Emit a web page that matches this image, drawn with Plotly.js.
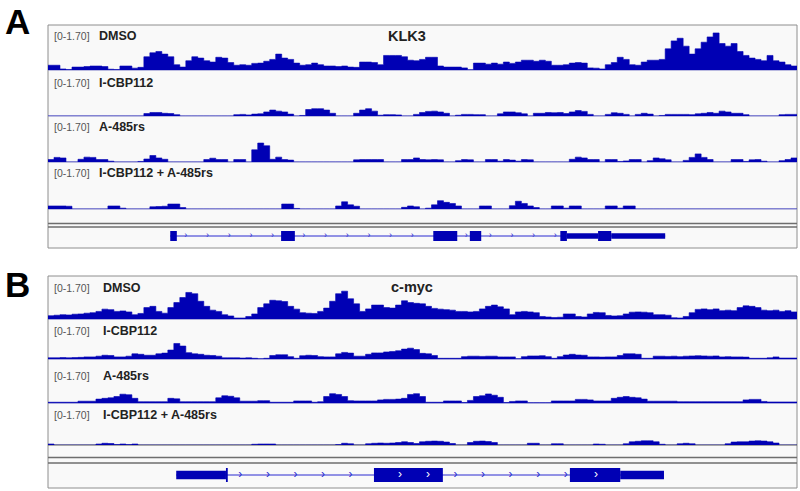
<!DOCTYPE html>
<html><head><meta charset="utf-8">
<script src="https://cdn.plot.ly/plotly-3.0.1.min.js"></script>
<style>html,body{margin:0;padding:0;background:#fff}#chart{width:800px;height:491px}</style>
</head><body><div id="chart"></div>
<script>
// ---------- data ----------
const trackNames = ['DMSO', 'I-CBP112', 'A-485rs', 'I-CBP112 + A-485rs'];
const rangeLabel = '[0-1.70]';
const yMax = 1.70;
const geneNames = ['KLK3', 'c-myc'];
const panelLetters = ['A', 'B'];

// KLK3 locus coverage (125 equal bins)
const klk3_DMSO = [
0.18,0.18,0.04,0.02,0.11,0.11,0.13,0.15,0.15,0.13,
0.03,0.02,0.15,0.15,0.07,0.1,0.5,0.65,0.7,0.6,
0.5,0.2,0.11,0.35,0.5,0.45,0.35,0.3,0.48,0.45,
0.28,0.18,0.2,0.18,0.25,0.26,0.33,0.4,0.6,0.45,
0.4,0.26,0.18,0.2,0.26,0.2,0.15,0.15,0.13,0.15,
0.11,0.1,0.3,0.3,0.28,0.2,0.55,0.55,0.55,0.5,
0.37,0.35,0.4,0.48,0.48,0.15,0.11,0.11,0.11,0.08,
0.01,0.26,0.26,0.22,0.26,0.22,0.3,0.25,0.3,0.37,
0.37,0.33,0.37,0.33,0.18,0.18,0.2,0.26,0.28,0.26,
0.08,0.07,0.04,0.2,0.28,0.48,0.4,0.2,0.18,0.3,
0.37,0.37,0.4,0.8,1.1,1.2,0.9,0.6,0.8,1.05,
1.25,1.4,1.0,0.9,1.0,0.7,0.55,0.45,0.4,0.35,
0.55,0.35,0.3,0.2,0.15];
const klk3_ICBP = [
0,0,0,0,0,0,0,0,0,0,
0,0,0,0,0,0,0.09,0.13,0.13,0.1,
0.09,0.05,0,0,0,0,0,0,0,0,
0,0.05,0.06,0.04,0.07,0.08,0.15,0.22,0.18,0.15,
0.07,0,0.02,0.24,0.27,0.27,0.22,0.1,0,0,
0,0.1,0.22,0.27,0.18,0.03,0.05,0.05,0.04,0,
0,0.06,0.13,0.17,0.18,0.15,0.1,0,0.03,0.06,
0.06,0.05,0.05,0,0,0.08,0.15,0.15,0.12,0.08,
0,0.1,0.1,0.13,0.12,0.13,0.09,0.15,0.2,0.17,
0.06,0,0,0.06,0.12,0.1,0.06,0,0.06,0.1,
0.07,0,0.02,0.06,0.06,0.06,0.06,0.05,0.08,0.1,
0.13,0.1,0.18,0.15,0.1,0.1,0.05,0,0,0,
0,0,0.05,0.06,0.06];
const klk3_A485 = [
0.09,0.17,0.15,0,0,0.1,0.18,0.17,0.09,0.09,
0.03,0,0,0,0,0.02,0.11,0.24,0.15,0.1,
0,0,0,0,0,0,0.09,0.14,0.09,0.09,
0,0.09,0.09,0,0.45,0.7,0.6,0.1,0.18,0.09,
0.07,0,0,0,0,0,0,0,0,0,
0,0.08,0.09,0.09,0.09,0.09,0,0,0,0.09,
0.09,0.15,0.09,0.08,0.09,0.08,0,0,0.05,0.09,
0.08,0,0,0.09,0.09,0.03,0.09,0.07,0.03,0.09,
0.08,0,0,0,0,0,0,0.1,0.18,0.15,
0.09,0.09,0,0.09,0.09,0.02,0.04,0.09,0.09,0,
0.05,0.15,0.12,0.08,0,0,0.06,0.17,0.3,0.17,
0.09,0,0,0,0.09,0.09,0.02,0.08,0.09,0.03,
0,0,0.05,0.09,0.15];
const klk3_Combo = [
0.11,0.11,0.11,0.1,0,0,0,0,0,0,
0.11,0.11,0.03,0,0,0,0,0.08,0.09,0.1,
0.18,0.18,0.05,0,0,0,0,0,0,0,
0,0,0,0,0,0,0,0,0,0.18,
0.18,0.02,0,0,0,0,0,0,0.11,0.26,
0.15,0.1,0,0,0,0,0,0,0,0.06,
0.11,0.08,0,0.03,0.15,0.3,0.24,0.2,0.11,0,
0,0,0.11,0.11,0,0,0,0.12,0.28,0.2,
0.11,0.05,0,0,0.11,0.11,0.03,0.11,0.11,0,
0,0,0,0.11,0.11,0.03,0.11,0.11,0,0,
0,0,0,0,0,0,0,0,0,0,
0,0,0,0,0,0,0,0,0,0,
0,0,0,0,0];

// c-myc locus coverage (125 equal bins)
const myc_DMSO = [
0.13,0.15,0.17,0.16,0.19,0.2,0.23,0.25,0.3,0.39,
0.37,0.3,0.32,0.28,0.17,0.22,0.45,0.5,0.3,0.23,
0.45,0.65,0.85,1.05,1.0,0.7,0.5,0.35,0.3,0.17,
0.12,0.04,0.04,0.1,0.2,0.45,0.6,0.74,0.72,0.69,
0.5,0.39,0.25,0.23,0.22,0.3,0.43,0.7,1.0,1.1,
0.8,0.6,0.3,0.4,0.55,0.55,0.45,0.43,0.55,0.72,
0.65,0.62,0.6,0.5,0.42,0.39,0.37,0.35,0.3,0.3,
0.28,0.3,0.4,0.5,0.55,0.48,0.4,0.17,0.28,0.3,
0.28,0.25,0.1,0.08,0.06,0.07,0.2,0.2,0.1,0.08,
0.2,0.26,0.25,0.14,0.12,0.13,0.2,0.27,0.28,0.27,
0.25,0.17,0.17,0.15,0.05,0.04,0.1,0.25,0.38,0.4,
0.37,0.4,0.33,0.35,0.33,0.45,0.52,0.5,0.45,0.35,
0.33,0.35,0.3,0.33,0.28];
const myc_ICBP = [
0.05,0.05,0.06,0.05,0.06,0.07,0.09,0.09,0.12,0.16,
0.15,0.09,0.09,0.12,0.22,0.2,0.16,0.16,0.22,0.25,
0.38,0.66,0.55,0.27,0.22,0.2,0.16,0.15,0.12,0.05,
0.05,0.05,0.04,0.05,0.03,0.01,0.03,0.15,0.18,0.18,
0.1,0.03,0.14,0.16,0.15,0.1,0.09,0.09,0.22,0.28,
0.25,0.12,0.12,0.2,0.26,0.26,0.3,0.32,0.35,0.42,
0.46,0.4,0.24,0.22,0.15,0.03,0.03,0.03,0.03,0.1,
0.12,0.12,0.11,0.12,0.12,0.09,0.09,0.09,0.01,0.1,
0.13,0.13,0.14,0.1,0.03,0.1,0.17,0.2,0.17,0.16,
0.09,0.09,0.08,0.09,0.09,0.15,0.22,0.22,0.2,0.03,
0.03,0.12,0.12,0.11,0.12,0.1,0.12,0.13,0.14,0.13,
0.12,0.13,0.09,0.1,0.09,0.09,0.08,0.03,0.03,0.03,
0.05,0.09,0.04,0.04,0.04];
const myc_A485 = [
0.03,0.03,0.03,0.03,0.03,0.07,0.07,0.07,0.15,0.18,
0.2,0.25,0.34,0.32,0.18,0.05,0.05,0.05,0.05,0.05,
0.18,0.16,0.05,0.05,0.05,0.05,0.05,0.05,0.2,0.28,
0.26,0.2,0.07,0.07,0.07,0.09,0.09,0.03,0.03,0.03,
0.03,0.08,0.08,0.08,0.03,0.05,0.25,0.36,0.33,0.25,
0.09,0.08,0.08,0.08,0.08,0.12,0.14,0.14,0.15,0.18,
0.33,0.36,0.25,0.03,0.03,0.03,0.08,0.08,0.08,0.02,
0.1,0.25,0.28,0.35,0.3,0.22,0.02,0.06,0.08,0.08,
0.01,0.01,0.01,0.01,0.08,0.08,0.08,0.08,0.14,0.14,
0.12,0.08,0.08,0.08,0.18,0.22,0.25,0.22,0.2,0.15,
0.07,0.07,0.07,0.07,0.07,0.05,0.05,0.05,0.05,0.05,
0.05,0.05,0.05,0.05,0.05,0.05,0.12,0.14,0.14,0.06,
0.04,0.04,0.04,0.04,0.04];
const myc_Combo = [
0.04,0,0,0,0,0,0,0,0.04,0.07,
0.06,0.02,0.04,0.02,0.04,0,0,0,0,0,
0,0,0,0,0,0,0,0,0,0,
0,0,0,0,0.03,0.04,0.04,0.04,0,0,
0,0,0,0,0,0,0,0,0.02,0.07,
0.05,0,0,0.05,0.07,0.08,0.07,0.08,0.1,0.13,
0.1,0.06,0.13,0.15,0.16,0.15,0.12,0.06,0,0,
0.1,0.15,0.16,0.14,0.1,0,0,0,0,0,
0.07,0.07,0,0,0.05,0.05,0,0,0,0,
0,0.04,0.03,0,0,0,0.05,0.13,0.15,0.17,
0.17,0.13,0.03,0,0,0.05,0.07,0.05,0,0,
0,0,0,0.05,0.12,0.13,0.13,0.16,0.17,0.16,
0.13,0.08,0,0,0];

// gene models (bin coordinates)
const klk3_exonStart = [20.4, 38.9, 64.3, 70.4, 85.5, 86.6, 91.8, 94.0];
const klk3_exonEnd   = [21.5, 41.2, 68.3, 72.3, 86.6, 91.8, 94.0, 103.0];
const klk3_exonCoding = [1, 1, 1, 1, 1, 0, 1, 0];
const myc_exonStart = [21.4, 29.7, 54.4, 87.1, 95.5];
const myc_exonEnd   = [29.7, 30.0, 65.9, 95.5, 102.8];
const myc_exonCoding = [0, 1, 1, 1, 0];

// ---------- layout helpers ----------
const W = 800, H = 491, ML = 48, MR = 3;
const NB = klk3_DMSO.length;
const px2x = px => (px - ML) / (W - ML - MR);
const py2y = py => 1 - py / H;
const BLUE = '#0000b4';
const FONT = 'Liberation Sans, Arial, Helvetica, sans-serif';

const panels = [
  { top: 25, bottom: 248, tracks: [[25,70],[70,116],[116,162],[162,209]],
    data: [klk3_DMSO, klk3_ICBP, klk3_A485, klk3_Combo],
    labelY: [36, 83, 127, 173], nameX: 97, geneLabel: [407, 36],
    dbl: [223.5, 227], gene: [226, 246], baseCol: ['#7c7cc8','#7c7cc8','#7c7cc8','#7c7cc8'],
    exS: klk3_exonStart, exE: klk3_exonEnd, exC: klk3_exonCoding,
    thick: 0.5, thin: 0.28, arrowOff: 1.5, arrowStep: 3.62, arrowSize: 9, chevrons: false,
    letterY: 21 },
  { top: 276, bottom: 488, tracks: [[276,319],[319,359],[359,403],[403,445]],
    data: [myc_DMSO, myc_ICBP, myc_A485, myc_Combo],
    labelY: [288, 331, 376, 415], nameX: 101, geneLabel: [412, 287],
    dbl: [457.5, 463], gene: [465, 485], baseCol: ['#5a5ac0','#5a5ac0','#5a5ac0','#555555'],
    exS: myc_exonStart, exE: myc_exonEnd, exC: myc_exonCoding,
    thick: 0.7, thin: 0.43, arrowOff: 2.1, arrowStep: 4.6, arrowSize: 12, chevrons: true,
    letterY: 284 }
];

const traces = [];
const shapes = [];
const annotations = [];
const layout = {
  width: W, height: H, margin: { l: ML, r: MR, t: 0, b: 0, pad: 0 },
  paper_bgcolor: '#ffffff', plot_bgcolor: 'rgba(0,0,0,0)', showlegend: false,
  xaxis: { domain: [0, 1], range: [0, NB], visible: false, fixedrange: true, anchor: 'y' },
  font: { family: FONT }
};

const xs = Array.from({ length: NB + 1 }, (_, i) => i);
let axisN = 0;
panels.forEach((p, pi) => {
  // panel frame
  shapes.push({ type: 'rect', xref: 'paper', yref: 'paper', x0: 0, x1: 1,
    y0: py2y(p.bottom), y1: py2y(p.top), fillcolor: '#f9f9f9',
    line: { color: '#8e8e8e', width: 1 }, layer: 'below' });
  p.tracks.forEach((t, ti) => {
    axisN++;
    const key = axisN === 1 ? 'yaxis' : 'yaxis' + axisN;
    const ref = axisN === 1 ? 'y' : 'y' + axisN;
    layout[key] = { domain: [py2y(t[1]), py2y(t[0])], range: [0, yMax], visible: false,
      fixedrange: true, anchor: 'x' };
    const vals = p.data[ti];
    shapes.push({ type: 'line', xref: 'paper', yref: 'paper', x0: 0, x1: 1,
      y0: py2y(t[1]) , y1: py2y(t[1]), line: { color: p.baseCol[ti], width: 1 }, layer: 'below' });
    traces.push({ type: 'scatter', mode: 'lines', x: xs, y: vals.concat([vals[vals.length - 1]]),
      xaxis: 'x', yaxis: ref, line: { shape: 'hv', width: 0.6, color: BLUE },
      fill: 'tozeroy', fillcolor: BLUE, hoverinfo: 'skip' });
    annotations.push({ xref: 'paper', yref: 'paper', x: px2x(52), y: py2y(p.labelY[ti]),
      xanchor: 'left', yanchor: 'middle', showarrow: false, text: rangeLabel,
      font: { family: FONT, size: 10.5, color: '#555555' } });
    annotations.push({ xref: 'paper', yref: 'paper', x: px2x(p.nameX), y: py2y(p.labelY[ti]),
      xanchor: 'left', yanchor: 'middle', showarrow: false, text: '<b>' + trackNames[ti] + '</b>',
      font: { family: FONT, size: 12.5, color: '#222222' } });
  });
  // double separator
  p.dbl.forEach(d => shapes.push({ type: 'line', xref: 'paper', yref: 'paper', x0: 0, x1: 1,
    y0: py2y(d), y1: py2y(d), line: { color: '#6e6e6e', width: 1.3 } }));
  // gene label
  annotations.push({ xref: 'paper', yref: 'paper', x: px2x(p.geneLabel[0]), y: py2y(p.geneLabel[1]),
    xanchor: 'center', yanchor: 'middle', showarrow: false, text: '<b>' + geneNames[pi] + '</b>',
    font: { family: FONT, size: 14.5, color: '#222222' } });
  // panel letter
  annotations.push({ xref: 'paper', yref: 'paper', x: px2x(17), y: py2y(p.letterY),
    xanchor: 'center', yanchor: 'middle', showarrow: false, text: '<b>' + panelLetters[pi] + '</b>',
    font: { family: FONT, size: 35, color: '#000000' } });

  // gene model axis
  axisN++;
  const gKey = 'yaxis' + axisN, gRef = 'y' + axisN;
  layout[gKey] = { domain: [py2y(p.gene[1]), py2y(p.gene[0])], range: [-1, 1], visible: false,
    fixedrange: true, anchor: 'x' };
  const gStart = Math.min(...p.exS), gEnd = Math.max(...p.exE);
  shapes.push({ type: 'line', xref: 'x', yref: gRef, x0: gStart, x1: gEnd, y0: 0, y1: 0,
    line: { color: '#2a2ad0', width: 1 }, layer: 'below' });
  p.exS.forEach((s, k) => {
    const h = p.exC[k] ? p.thick : p.thin;
    shapes.push({ type: 'rect', xref: 'x', yref: gRef, x0: s, x1: p.exE[k], y0: -h, y1: h,
      fillcolor: BLUE, line: { width: 0 }, layer: 'below' });
  });
  // strand arrows in introns
  const order = p.exS.map((s, k) => [s, p.exE[k], p.exC[k]]).sort((a, b) => a[0] - b[0]);
  const ax = [];
  for (let k = 0; k < order.length - 1; k++) {
    const a = order[k][1], b = order[k + 1][0];
    if (b - a < 0.5) continue;
    for (let x = a + p.arrowOff; x < b - 0.3; x += p.arrowStep) ax.push(x);
  }
  traces.push({ type: 'scatter', mode: 'text', x: ax, y: ax.map(() => 0), xaxis: 'x', yaxis: gRef,
    text: ax.map(() => '›'), textposition: 'middle center',
    textfont: { family: FONT, size: p.arrowSize, color: '#2a2ad0' }, hoverinfo: 'skip' });
  if (p.chevrons) {
    const cx = [];
    order.forEach(e => {
      if (!e[2] || e[1] - e[0] < 3) return;
      for (let x = e[0] + 4.34; x < e[1] - 1; x += 4.67) cx.push(x);
    });
    traces.push({ type: 'scatter', mode: 'text', x: cx, y: cx.map(() => 0), xaxis: 'x', yaxis: gRef,
      text: cx.map(() => '›'), textposition: 'middle center',
      textfont: { family: FONT, size: 12, color: '#ffffff' }, hoverinfo: 'skip' });
  }
});

layout.shapes = shapes;
layout.annotations = annotations;
Plotly.newPlot('chart', traces, layout, { staticPlot: true, displayModeBar: false });
</script>
</body></html>
